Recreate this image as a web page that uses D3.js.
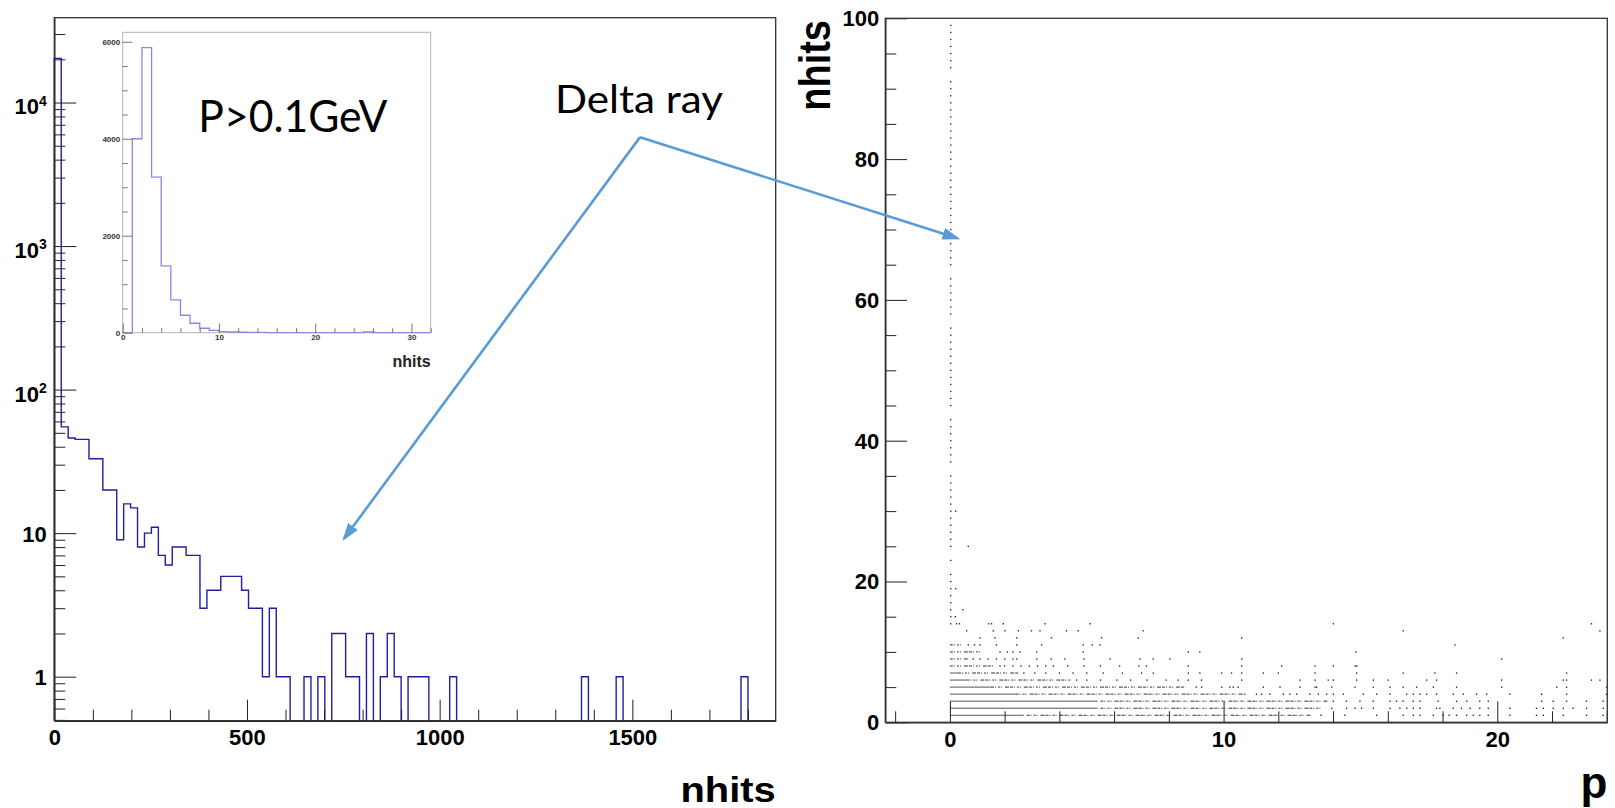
<!DOCTYPE html>
<html>
<head>
<meta charset="utf-8">
<script src="https://cdn.jsdelivr.net/npm/d3@7"></script>
<style>
  html, body { margin: 0; padding: 0; background: #fff; }
  #main { width: 1615px; height: 808px; }
  .root text { font-family: "Liberation Sans", Arial, sans-serif; font-weight: bold; }
  .root text.note { font-family: Lato, "Open Sans", sans-serif; font-weight: normal; }
</style>
</head>
<body>
<div id="main"></div>
<script>
// ---- left: nhits of all tracks, 18-wide bins from 0 ----
const binWidth = 18;
const nhitsCounts = [
  20300, 55, 46, 45, 45, 33, 33, 20, 20, 9,
  16, 15, 8, 10, 11, 7, 6, 8, 8, 7,
  7, 3, 4, 4, 5, 5, 5, 4, 3, 3,
  1, 3, 1, 1, 0, 0, 1, 0, 1, 0,
  2, 2, 1, 1, 0, 2, 0, 1, 2, 1,
  0, 1, 1, 1, 0, 0, 0, 1, 0, 0,
  0, 0, 0, 0, 0, 0, 0, 0, 0, 0,
  0, 0, 0, 0, 0, 0, 1, 0, 0, 0,
  0, 1, 0, 0, 0, 0, 0, 0, 0, 0,
  0, 0, 0, 0, 0, 0, 0, 0, 0, 1,
  0, 0, 0, 0
];
const logTicks = [1, 10, 100, 1000, 10000];
const leftXTicks = [0, 500, 1000, 1500];

// ---- inset: nhits for P > 0.1 GeV, unit bins ----
const insetCounts = [
  0, 4000, 5880, 3210, 1380, 675, 360, 195, 92, 50,
  22, 14, 9, 7, 5, 2, 0, 0, 0, 0,
  0, 0, 0, 0, 0, 14, 0, 0, 0, 0,
  0, 0
];
const insetXTicks = [0, 10, 20, 30];
const insetYTicks = [0, 2000, 4000, 6000];

// ---- right: nhits vs p ----
const rightXTicks = [0, 10, 20];
const rightYTicks = [0, 20, 40, 60, 80, 100];
// hits seen in the column at p ~ 0
const spineHits = [14, 15, 16, 17, 18, 19, 20, 21, 23, 25, 26, 27, 28, 29, 30, 31, 32, 33, 34, 35,
  37, 38, 39, 40, 41, 42, 43, 45, 46, 47, 48, 49, 50, 51, 52, 53, 54, 55, 56, 58, 59, 60, 61, 62, 63,
  65, 66, 67, 68, 69, 70, 71, 72, 73, 74, 75, 76, 77, 78, 79, 80, 81, 82, 83, 84, 85, 86, 87, 88, 89,
  90, 91, 93, 94, 95, 96, 97, 98, 99];
// [nhits, pFrom, pTo] fully packed stretches
const solidRuns = [[1, 0, 2.7], [2, 0, 5.4], [3, 0, 5.4], [4, 0, 2.4], [5, 0, 1.5], [6, 0, 0.6], [7, 0, 0.3]];
// [nhits, pFrom, pTo] densely but not fully packed
const denseRuns = [[1, 2.8, 13.2], [2, 5.5, 13.6], [3, 5.5, 13.8], [4, 2.4, 10.8], [5, 1.5, 8.6],
  [6, 0.6, 4.4], [7, 0.3, 2.5], [8, 0, 1.6], [9, 0, 0.7], [10, 0, 1.2], [11, 0, 0.4]];
// [nhits, p values] of lone points
const sparseRows = [
  [1, [13.56, 14.43, 15.59, 16.56, 16.93, 17.17, 17.66, 18.02, 18.24, 18.51, 18.88, 19.12, 19.36, 19.67, 20.46, 21.43, 21.68, 22.41, 23.26, 23.87]],
  [2, [13.95, 14.49, 14.80, 15.04, 15.47, 16.08, 16.44, 16.69, 16.93, 17.17, 17.78, 17.90, 18.39, 18.69, 19.00, 19.36, 19.67, 20.46, 21.43, 21.68, 22.04, 22.41, 22.77, 23.26, 23.87]],
  [3, [14.01, 14.49, 14.98, 15.47, 16.08, 16.32, 16.56, 16.93, 17.17, 17.84, 18.51, 18.88, 19.36, 19.67, 21.62, 22.04, 22.53, 23.26, 23.87]],
  [4, [11.20, 11.39, 11.69, 12.18, 12.42, 12.67, 13.15, 13.46, 13.76, 14.01, 14.37, 15.10, 15.59, 16.08, 16.69, 16.93, 17.17, 17.42, 17.78, 18.39, 18.76, 19.24, 19.61, 20.46, 21.62, 22.53, 23.99]],
  [5, [9.0, 9.20, 9.93, 10.23, 10.35, 10.53, 11.45, 12.06, 12.79, 13.34, 13.40, 13.95, 14.80, 15.47, 16.08, 16.56, 17.05, 17.66, 18.51, 20.16, 22.17, 22.53, 23.99]],
  [6, [4.63, 5.0, 5.5, 6.1, 6.6, 7.2, 7.9, 8.34, 8.71, 9.19, 10.66, 12.79, 13.34, 13.82, 14.01, 14.86, 15.47, 16.01, 17.42, 17.78, 20.16, 22.41, 22.53, 23.44, 23.75]],
  [7, [2.7, 3.1, 3.5, 4.0, 4.5, 5.0, 5.6, 6.3, 7.0, 7.43, 8.71, 9.13, 9.93, 10.29, 10.66, 11.45, 12.00, 13.34, 14.86, 16.56, 17.72, 18.51, 22.53]],
  [8, [1.83, 2.0, 2.3, 2.6, 2.9, 3.2, 3.5, 3.78, 4.3, 4.9, 5.5, 6.2, 6.9, 7.18, 8.71, 10.66, 12.12, 13.34, 14.01, 14.80, 14.86]],
  [9, [0.85, 1.1, 1.4, 1.7, 2.0, 2.3, 2.44, 3.17, 3.7, 4.2, 4.9, 5.85, 6.94, 7.43, 8.04, 10.66, 20.16]],
  [10, [1.83, 2.1, 2.3, 2.56, 3.17, 4.87, 8.71, 9.13, 14.83]],
  [11, [0.67, 0.9, 1.1, 1.70, 2.44, 3.35, 4.87, 5.2, 5.48, 18.45]],
  [12, [1.10, 1.64, 2.44, 3.71, 5.54, 6.88, 10.66, 22.41]],
  [13, [0.61, 1.58, 2.01, 2.50, 2.98, 3.29, 4.26, 4.69, 7.06, 16.56, 23.75]],
  [14, [0.24, 0.35, 1.42, 1.52, 1.95, 3.47, 5.12, 14.01, 23.44]],
  [15, [0.2]], [16, [0.47]], [19, [0.21]], [25, [0.67]], [30, [0.21]]
];

function createChart() {
    d3.select("#main svg").remove();

    const svg = d3.select("#main").append("svg")
        .attr("width", 1615)
        .attr("height", 808)
        .attr("class", "root");

    const blue = "#5b9bd5";
    const plain = d => String(d);

    // ================= left panel =================
    const L = { left: 54.3, right: 775.7, top: 17.7, bottom: 720.7 };
    const xL = d3.scaleLinear().domain([0, binWidth * nhitsCounts.length]).range([L.left, L.right]);
    const yL = d3.scaleLog().domain([0.4935, 39000]).range([L.bottom, L.top]);

    // histogram outline
    const pts = [[0, 0]];
    nhitsCounts.forEach((v, i) => {
        pts.push([i * binWidth, v]);
        pts.push([(i + 1) * binWidth, v]);
    });
    pts.push([nhitsCounts.length * binWidth, 0]);
    svg.append("path")
        .attr("d", d3.line().x(d => xL(d[0])).y(d => d[1] > 0 ? yL(d[1]) : L.bottom)(pts))
        .attr("fill", "none")
        .attr("stroke", "#1f1fa3")
        .attr("stroke-width", 1.4);

    // minor log ticks
    const logMinor = [];
    [0.1, 1, 10, 100, 1000, 10000].forEach(dec => {
        for (let k = 2; k <= 9; k++) {
            const v = k * dec;
            if (v > 0.4935 && v < 39000) logMinor.push(v);
        }
    });
    const gLyMin = svg.append("g").attr("transform", `translate(${L.left},0)`)
        .call(d3.axisLeft(yL).tickValues(logMinor).tickSize(-11).tickSizeOuter(0).tickFormat(""));
    gLyMin.select(".domain").remove();

    const gLy = svg.append("g").attr("transform", `translate(${L.left},0)`)
        .call(d3.axisLeft(yL).tickValues(logTicks).tickSize(-22).tickSizeOuter(0).tickPadding(7.6)
            .tickFormat(d => d >= 100 ? "10" : String(d)));
    gLy.selectAll(".tick text")
        .attr("font-size", 22)
        .attr("dy", d => d >= 100 ? "0.52em" : "0.36em")
        .filter(d => d >= 100)
        .append("tspan")
        .attr("dy", "-0.62em")
        .attr("font-size", 14)
        .text(d => Math.round(Math.log10(d)));

    const leftXMinor = [100, 200, 300, 400, 600, 700, 800, 900, 1100, 1200, 1300, 1400, 1600, 1700, 1800];
    const gLxMin = svg.append("g").attr("transform", `translate(0,${L.bottom})`)
        .call(d3.axisBottom(xL).tickValues(leftXMinor).tickSize(-11).tickSizeOuter(0).tickFormat(""));
    gLxMin.select(".domain").remove();
    const gLx = svg.append("g").attr("transform", `translate(0,${L.bottom})`)
        .call(d3.axisBottom(xL).tickValues(leftXTicks).tickSize(-21).tickSizeOuter(0).tickPadding(8.7)
            .tickFormat(plain));
    gLx.selectAll(".tick text").attr("font-size", 22);

    svg.selectAll(".tick line").attr("stroke", "#222");
    svg.selectAll(".domain").attr("stroke", "#222").attr("stroke-width", 1.4);

    svg.append("rect")
        .attr("x", L.left).attr("y", L.top)
        .attr("width", L.right - L.left).attr("height", L.bottom - L.top)
        .attr("fill", "none").attr("stroke", "#333").attr("stroke-width", 1.3);

    svg.append("text")
        .attr("transform", `translate(${L.right},801.7) scale(1.14,1)`)
        .attr("text-anchor", "end")
        .attr("font-size", 35)
        .text("nhits");

    // ================= inset =================
    const I = { left: 122.7, right: 430.7, top: 32.3, bottom: 332.7 };
    const xI = d3.scaleLinear().domain([0, 32]).range([I.left, I.right]);
    const yI = d3.scaleLinear().domain([0, 6195]).range([I.bottom, I.top]);
    const inset = svg.append("g").attr("class", "inset");

    inset.append("rect")
        .attr("x", I.left).attr("y", I.top)
        .attr("width", I.right - I.left).attr("height", I.bottom - I.top)
        .attr("fill", "#fff").attr("stroke", "#b4b4b4").attr("stroke-width", 1);

    const ipts = [[0, 0]];
    insetCounts.forEach((v, i) => { ipts.push([i, v]); ipts.push([i + 1, v]); });
    ipts.push([insetCounts.length, 0]);
    inset.append("path")
        .attr("d", d3.line().x(d => xI(d[0])).y(d => yI(d[1]))(ipts))
        .attr("fill", "none")
        .attr("stroke", "#8a8ae0")
        .attr("stroke-width", 1.3);

    const iyMin = inset.append("g").attr("transform", `translate(${I.left},0)`)
        .call(d3.axisLeft(yI).tickValues([500, 1000, 1500, 2500, 3000, 3500, 4500, 5000, 5500])
            .tickSize(-5).tickSizeOuter(0).tickFormat(""));
    iyMin.select(".domain").remove();
    const iy = inset.append("g").attr("transform", `translate(${I.left},0)`)
        .call(d3.axisLeft(yI).tickValues(insetYTicks).tickSize(-9.7).tickSizeOuter(0).tickPadding(2.5)
            .tickFormat(plain));
    iy.select(".domain").remove();
    iy.selectAll(".tick text").attr("font-size", 8).attr("fill", "#333");

    const ixMin = inset.append("g").attr("transform", `translate(0,${I.bottom})`)
        .call(d3.axisBottom(xI).tickValues([2, 4, 6, 8, 12, 14, 16, 18, 22, 24, 26, 28, 32])
            .tickSize(-4.5).tickSizeOuter(0).tickFormat(""));
    ixMin.select(".domain").remove();
    const ix = inset.append("g").attr("transform", `translate(0,${I.bottom})`)
        .call(d3.axisBottom(xI).tickValues(insetXTicks).tickSize(-9.3).tickSizeOuter(0).tickPadding(2)
            .tickFormat(plain));
    ix.select(".domain").remove();
    ix.selectAll(".tick text").attr("font-size", 8).attr("fill", "#333");
    inset.selectAll(".tick line").attr("stroke", "#777");

    inset.append("text")
        .attr("x", I.right).attr("y", 367.3)
        .attr("text-anchor", "end")
        .attr("font-size", 16)
        .attr("fill", "#222")
        .text("nhits");

    svg.append("text")
        .attr("class", "note")
        .attr("x", 198.3).attr("y", 131.7)
        .attr("font-size", 44)
        .attr("textLength", 189)
        .attr("lengthAdjust", "spacingAndGlyphs")
        .text("P>0.1GeV");

    // ================= right panel =================
    const R = { left: 885.3, right: 1607.3, top: 18.3, bottom: 722.3 };
    const xR = d3.scaleLinear().domain([-2.36, 24.02]).range([R.left, R.right]);
    const yR = d3.scaleLinear().domain([0, 100]).range([R.bottom, R.top]);

    svg.append("clipPath").attr("id", "rclip")
        .append("rect")
        .attr("x", R.left).attr("y", R.top)
        .attr("width", R.right - R.left).attr("height", R.bottom - R.top);
    const plot = svg.append("g").attr("clip-path", "url(#rclip)");

    plot.selectAll(".solid")
        .data(solidRuns)
        .enter().append("line")
        .attr("x1", d => xR(d[1])).attr("x2", d => xR(d[2]))
        .attr("y1", d => yR(d[0])).attr("y2", d => yR(d[0]))
        .attr("stroke", "#555").attr("stroke-width", 1);

    plot.selectAll(".dense")
        .data(denseRuns)
        .enter().append("line")
        .attr("x1", d => xR(d[1])).attr("x2", d => xR(d[2]))
        .attr("y1", d => yR(d[0])).attr("y2", d => yR(d[0]))
        .attr("stroke", "#333").attr("stroke-width", 1)
        .attr("stroke-dasharray", "3,1,1,2,2,1,1,3,4,1");

    const loose = [];
    sparseRows.forEach(r => r[1].forEach(p => loose.push([p, r[0]])));
    spineHits.forEach(n => loose.push([0.03, n]));
    plot.selectAll(".pt")
        .data(loose)
        .enter().append("rect")
        .attr("x", d => xR(d[0]) - 0.6)
        .attr("y", d => yR(d[1]) - 0.6)
        .attr("width", 1.3).attr("height", 1.3)
        .attr("fill", "#111");

    const ryMin = svg.append("g").attr("transform", `translate(${R.left},0)`)
        .call(d3.axisLeft(yR).tickValues([5, 10, 15, 25, 30, 35, 45, 50, 55, 65, 70, 75, 85, 90, 95])
            .tickSize(-11).tickSizeOuter(0).tickFormat(""));
    ryMin.select(".domain").remove();
    const ry = svg.append("g").attr("transform", `translate(${R.left},0)`)
        .call(d3.axisLeft(yR).tickValues(rightYTicks).tickSize(-21.7).tickSizeOuter(0).tickPadding(6)
            .tickFormat(plain));
    ry.selectAll(".tick text").attr("font-size", 22).attr("dy", "0.34em");

    const rxMin = svg.append("g").attr("transform", `translate(0,${R.bottom})`)
        .call(d3.axisBottom(xR).tickValues([-2, 2, 4, 6, 8, 12, 14, 16, 18, 22, 24])
            .tickSize(-11).tickSizeOuter(0).tickFormat(""));
    rxMin.select(".domain").remove();
    const rx = svg.append("g").attr("transform", `translate(0,${R.bottom})`)
        .call(d3.axisBottom(xR).tickValues(rightXTicks).tickSize(-21).tickSizeOuter(0).tickPadding(8.8)
            .tickFormat(plain));
    rx.selectAll(".tick text").attr("font-size", 22);

    [ry, rx, ryMin, rxMin].forEach(g => g.selectAll(".tick line").attr("stroke", "#222"));
    svg.selectAll(".domain").attr("stroke", "#222").attr("stroke-width", 1.4);
    inset.selectAll(".domain").remove();

    svg.append("rect")
        .attr("x", R.left).attr("y", R.top)
        .attr("width", R.right - R.left).attr("height", R.bottom - R.top)
        .attr("fill", "none").attr("stroke", "#333").attr("stroke-width", 1.3);

    svg.append("text")
        .attr("transform", "translate(830,20) rotate(-90) scale(1,1.18)")
        .attr("text-anchor", "end")
        .attr("font-size", 38)
        .text("nhits");

    svg.append("text")
        .attr("x", R.right).attr("y", 797.5)
        .attr("text-anchor", "end")
        .attr("font-size", 44)
        .text("p");

    // ================= annotation =================
    svg.append("defs").append("marker")
        .attr("id", "head")
        .attr("viewBox", "0 0 18 12")
        .attr("refX", 15).attr("refY", 6)
        .attr("markerWidth", 18).attr("markerHeight", 12)
        .attr("markerUnits", "userSpaceOnUse")
        .attr("orient", "auto")
        .append("path")
        .attr("d", "M0,0 L18,6 L0,12 z")
        .attr("fill", blue);

    const origin = [xL(1520), yL(5740)];
    const tips = [[xL(752), yL(9.16)], [xR(0.28), yR(68.75)]];
    tips.forEach(t => {
        svg.append("line")
            .attr("x1", origin[0]).attr("y1", origin[1])
            .attr("x2", t[0]).attr("y2", t[1])
            .attr("stroke", blue)
            .attr("stroke-width", 2.6)
            .attr("marker-end", "url(#head)");
    });

    svg.append("text")
        .attr("class", "note")
        .attr("x", 555).attr("y", 113.3)
        .attr("font-size", 39)
        .attr("textLength", 168)
        .attr("lengthAdjust", "spacingAndGlyphs")
        .text("Delta ray");
}

document.addEventListener("DOMContentLoaded", function() {
    createChart();
});
</script>
</body>
</html>
